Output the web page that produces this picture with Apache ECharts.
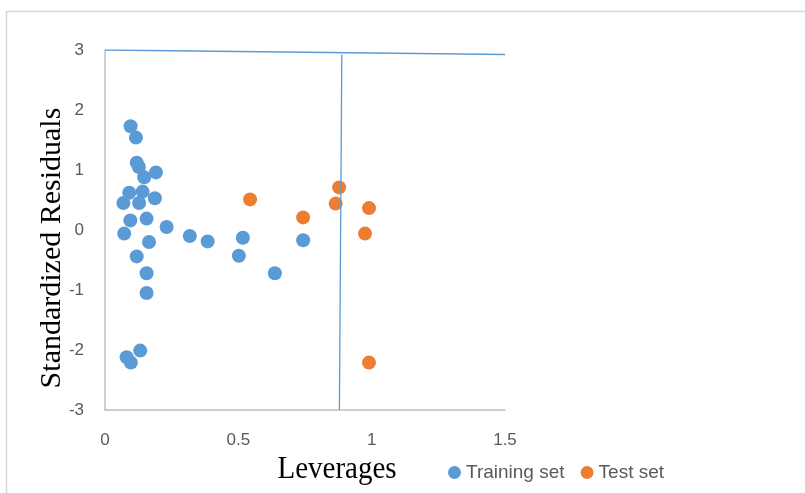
<!DOCTYPE html>
<html>
<head>
<meta charset="utf-8">
<script src="https://cdn.jsdelivr.net/npm/echarts@6/dist/echarts.min.js"></script>
<style>
html,body{margin:0;padding:0;background:#fff;}
#chart{width:805px;height:493px;}
</style>
</head>
<body>
<div id="chart"></div>
<script>
// Training set (leverage, standardized residual)
var trainX = [0.096,0.116,0.119,0.127,0.147,0.191,0.091,0.141,0.069,0.128,0.187,0.095,0.156,0.072,0.231,0.165,0.318,0.119,0.156,0.156,0.132,0.081,0.097,0.385,0.517,0.502,0.637,0.743];
var trainY = [1.73,1.54,1.12,1.05,0.88,0.96,0.62,0.64,0.45,0.45,0.53,0.16,0.19,-0.06,0.05,-0.20,-0.10,-0.44,-0.72,-1.05,-2.01,-2.12,-2.21,-0.19,-0.13,-0.43,-0.72,-0.17];
// Test set
var testX = [0.544,0.743,0.878,0.865,0.990,0.975,0.990];
var testY = [0.51,0.21,0.71,0.44,0.365,-0.06,-2.21];
// Reference lines (drawn as in the source figure)
var limitHX = [0, 1.5];
var limitHY = [3, 2.927];
var limitVX = [0.888, 0.879];
var limitVY = [2.927, -3];
var xTicks = [0, 0.5, 1, 1.5];
var yTicks = [-3, -2, -1, 0, 1, 2, 3];

function zip(a, b){ return a.map(function(v,i){ return [v, b[i]]; }); }

var chart = echarts.init(document.getElementById('chart'), null, {renderer:'canvas'});
var gray = '#595959';
chart.setOption({
  animation: false,
  backgroundColor: '#fff',
  grid: {left:105, right:300, top:50, bottom:83, containLabel:false},
  xAxis: {
    type:'value', min:xTicks[0], max:xTicks[xTicks.length-1], interval:0.5,
    axisLine:{show:true, onZero:false, lineStyle:{color:'#BFBFBF', width:1.5}},
    axisTick:{show:false}, splitLine:{show:false},
    axisLabel:{color:gray, fontFamily:'Liberation Sans', fontSize:17, margin:22}
  },
  yAxis: {
    type:'value', min:yTicks[0], max:yTicks[yTicks.length-1], interval:1,
    axisLine:{show:true, onZero:false, lineStyle:{color:'#BFBFBF', width:1.5}},
    axisTick:{show:false}, splitLine:{show:false},
    axisLabel:{color:gray, fontFamily:'Liberation Sans', fontSize:17, margin:21}
  },
  legend: {
    data:['Training set','Test set'], left:443, top:458, icon:'circle',
    itemWidth:13, itemHeight:13, itemGap:16,
    textStyle:{color:gray, fontFamily:'Liberation Sans', fontSize:19}
  },
  graphic: [
    {type:'rect', left:4, top:9, shape:{width:900, height:600}, silent:true, z:-1,
     style:{fill:'none', stroke:'#D9D9D9', lineWidth:1.5}},
    {type:'text', x:52, y:248, rotation:Math.PI/2,
     style:{text:'Standardized Residuals', fill:'#000', font:'30px "Liberation Serif"', textAlign:'center', textVerticalAlign:'middle'}},
    {type:'text', x:337, y:470, scaleY:1.1,
     style:{text:'Leverages', fill:'#000', font:'29px "Liberation Serif"', textAlign:'center', textVerticalAlign:'middle'}}
  ],
  series: [
    {name:'Training set', type:'scatter', symbol:'circle', symbolSize:14, data:zip(trainX, trainY),
     itemStyle:{color:'#5B9BD5', opacity:1}},
    {name:'Test set', type:'scatter', symbol:'circle', symbolSize:14, data:zip(testX, testY),
     itemStyle:{color:'#ED7D31', opacity:1}},
    {name:'limitH', type:'line', data:zip(limitHX, limitHY), showSymbol:false, symbol:'none', z:5,
     lineStyle:{color:'#5B9BD5', width:1.5}},
    {name:'limitV', type:'line', data:zip(limitVX, limitVY), showSymbol:false, symbol:'none', z:5,
     lineStyle:{color:'#5B9BD5', width:1.3}}
  ]
});
</script>
</body>
</html>
